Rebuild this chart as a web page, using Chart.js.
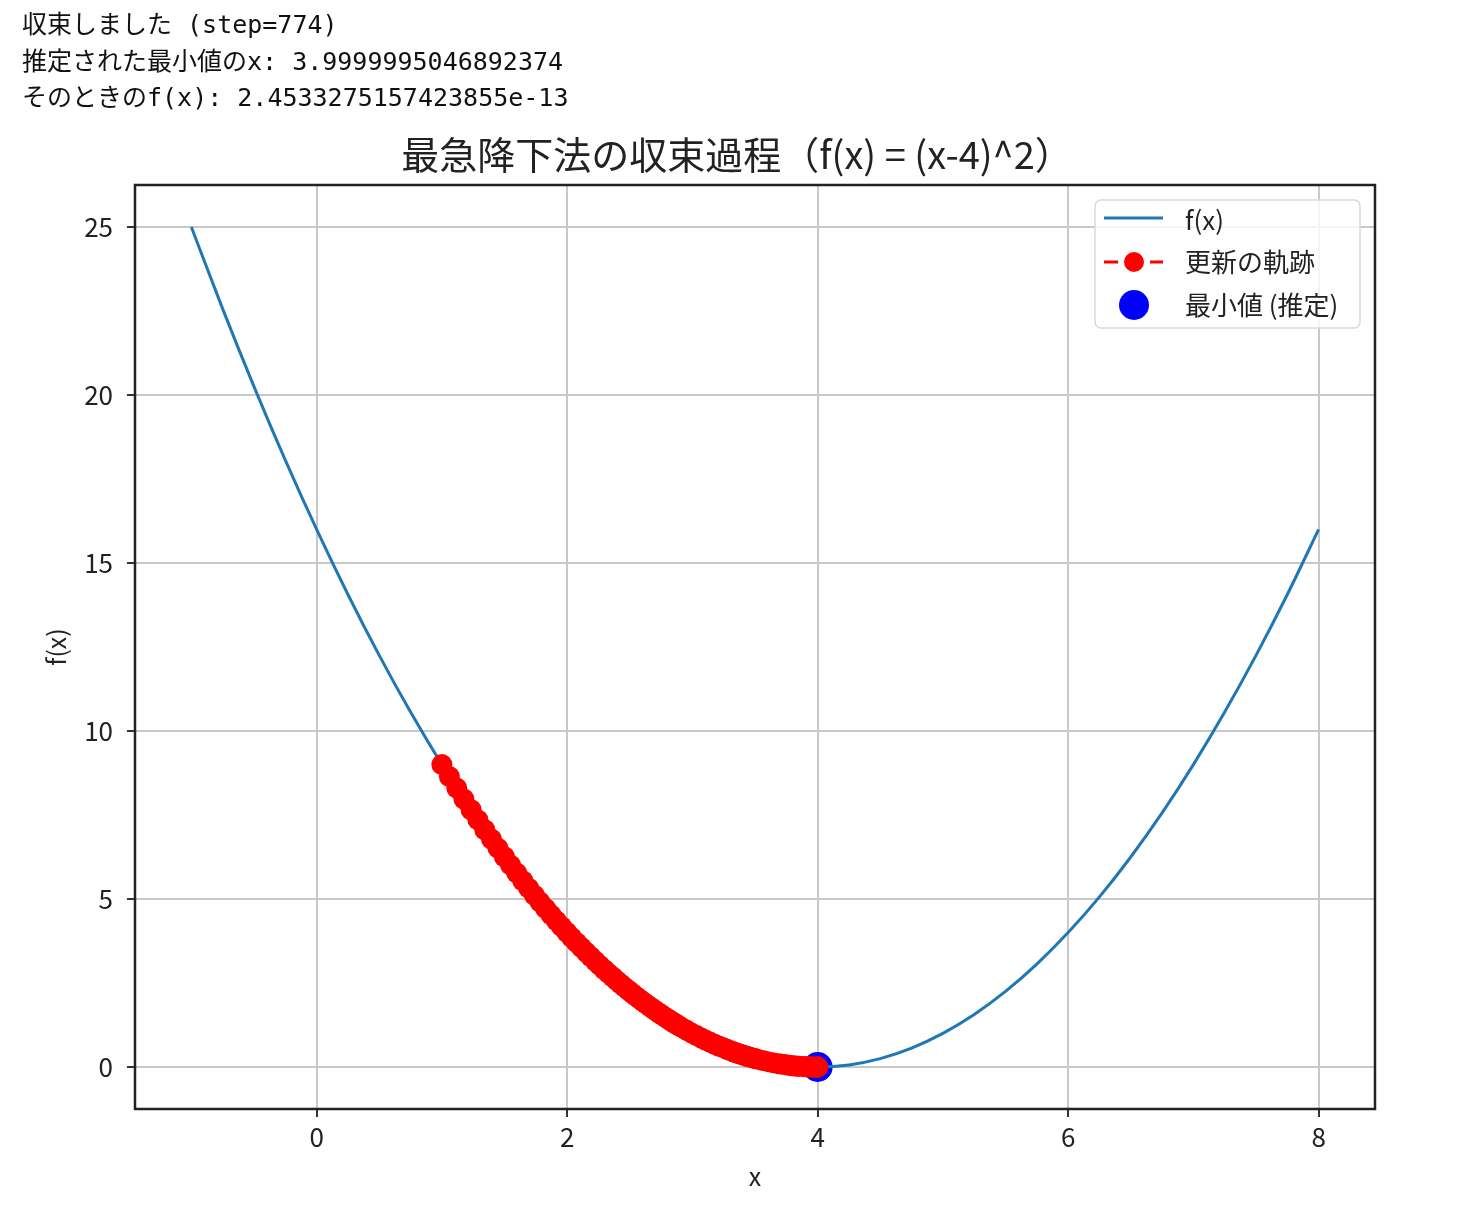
<!DOCTYPE html>
<html>
<head>
<meta charset="utf-8">
<script src="https://cdn.jsdelivr.net/npm/chart.js@4.4.0/dist/chart.umd.min.js"></script>
<style>
body { margin: 0; background: #fff; }
#wrap { position: relative; width: 1474px; height: 1220px; }
#out { position: absolute; left: 22px; top: 7px; z-index: 2; white-space: pre;
	font-family: "DejaVu Sans Mono", "Noto Sans CJK JP", monospace; font-size: 25px; line-height: 36.5px; color: #111; }
canvas { position: absolute; left: 0; top: 0; }
</style>
</head>
<body>
<div id="wrap">
<div id="out">収束しました (step=774)
推定された最小値のx: 3.9999995046892374
そのときのf(x): 2.4533275157423855e-13</div>
<canvas id="chart" width="1474" height="1220"></canvas>
</div>
<script>
// f(x) curve
var curveX = [-1, -0.75, -0.5, -0.25, 0, 0.25, 0.5, 0.75, 1, 1.25, 1.5, 1.75, 2, 2.25, 2.5, 2.75, 3, 3.25, 3.5, 3.75,
	4, 4.25, 4.5, 4.75, 5, 5.25, 5.5, 5.75, 6, 6.25, 6.5, 6.75, 7, 7.25, 7.5, 7.75, 8];
var curveY = [25, 22.5625, 20.25, 18.0625, 16, 14.0625, 12.25, 10.5625, 9, 7.5625, 6.25, 5.0625, 4, 3.0625, 2.25, 1.5625, 1, 0.5625, 0.25, 0.0625,
	0, 0.0625, 0.25, 0.5625, 1, 1.5625, 2.25, 3.0625, 4, 5.0625, 6.25, 7.5625, 9, 10.5625, 12.25, 14.0625, 16];

// update trajectory (subset of the 774 steps)
var stepX = [1.000, 1.060, 1.119, 1.176, 1.233, 1.288, 1.342, 1.396, 1.448, 1.499,
	1.549, 1.598, 1.646, 1.693, 1.739, 1.784, 1.829, 1.872, 1.915, 1.956,
	1.997, 2.037, 2.076, 2.115, 2.153, 2.190, 2.226, 2.261, 2.296, 2.330,
	2.364, 2.396, 2.428, 2.460, 2.491, 2.521, 2.550, 2.579, 2.608, 2.636,
	2.663, 2.690, 2.716, 2.742, 2.767, 2.791, 2.816, 2.839, 2.862, 2.885,
	2.907, 2.951, 2.992, 3.032, 3.071, 3.107, 3.143, 3.177, 3.209, 3.241,
	3.271, 3.300, 3.327, 3.354, 3.379, 3.404, 3.428, 3.450, 3.472, 3.493,
	3.513, 3.560, 3.602, 3.640, 3.675, 3.706, 3.734, 3.760, 3.783, 3.804,
	3.823, 3.840, 3.855, 3.882, 3.903, 3.921, 3.935, 3.947, 3.968, 3.981,
	3.993, 3.997, 3.999, 3.9999995];
var stepY = [9.000, 8.644, 8.301, 7.973, 7.657, 7.354, 7.062, 6.783, 6.514, 6.256,
	6.008, 5.771, 5.542, 5.323, 5.112, 4.909, 4.715, 4.528, 4.349, 4.177,
	4.011, 3.852, 3.700, 3.553, 3.413, 3.278, 3.148, 3.023, 2.903, 2.788,
	2.678, 2.572, 2.470, 2.372, 2.278, 2.188, 2.101, 2.018, 1.938, 1.862,
	1.788, 1.717, 1.649, 1.584, 1.521, 1.461, 1.403, 1.347, 1.294, 1.243,
	1.194, 1.101, 1.015, 0.937, 0.864, 0.797, 0.735, 0.678, 0.625, 0.577,
	0.532, 0.491, 0.453, 0.417, 0.385, 0.355, 0.328, 0.302, 0.279, 0.257,
	0.237, 0.194, 0.158, 0.129, 0.106, 0.086, 0.071, 0.058, 0.047, 0.038,
	0.031, 0.026, 0.021, 0.014, 0.0094, 0.0062, 0.0042, 0.0028, 0.0010, 0.0004,
	0.00005, 0.0000065, 0, 0];

var minX = [3.9999995046892374];
var minY = [2.4533275157423855e-13];

var xTicks = [0, 2, 4, 6, 8];
var yTicks = [0, 5, 10, 15, 20, 25];
var xRange = [-1.45, 8.45];
var yRange = [-1.25, 26.25];

var labels = ['f(x)', '更新の軌跡', '最小値 (推定)'];
var title = '最急降下法の収束過程（f(x) = (x-4)^2）';

var FONT = '"Noto Sans CJK JP", "Noto Sans", sans-serif';
var BLUE = '#1f77b4';

function pts(xs, ys) {
	return xs.map(function(x, i) { return { x: x, y: ys[i] }; });
}

var legendPlugin = {
	id: 'boxLegend',
	afterDraw: function(chart) {
		var ctx = chart.ctx;
		var a = chart.chartArea;
		// frame
		ctx.save();
		ctx.strokeStyle = '#222';
		ctx.lineWidth = 2.5;
		ctx.strokeRect(a.left, a.top, a.right - a.left, a.bottom - a.top);

		var bx = a.right - 280, by = a.top + 15, bw = 265, bh = 128;
		ctx.beginPath();
		ctx.roundRect(bx, by, bw, bh, 6);
		ctx.fillStyle = 'rgba(255,255,255,0.8)';
		ctx.fill();
		ctx.strokeStyle = '#d9d9d9';
		ctx.lineWidth = 1.5;
		ctx.stroke();

		var y1 = by + 18, y2 = by + 62, y3 = by + 105;
		// f(x) line
		ctx.strokeStyle = BLUE;
		ctx.lineWidth = 3;
		ctx.beginPath(); ctx.moveTo(bx + 9, y1); ctx.lineTo(bx + 68, y1); ctx.stroke();
		// trajectory
		ctx.strokeStyle = 'red';
		ctx.beginPath(); ctx.moveTo(bx + 9, y2); ctx.lineTo(bx + 23, y2); ctx.moveTo(bx + 55, y2); ctx.lineTo(bx + 68, y2); ctx.stroke();
		ctx.fillStyle = 'red';
		ctx.beginPath(); ctx.arc(bx + 39, y2, 10, 0, Math.PI * 2); ctx.fill();
		// min point
		ctx.fillStyle = 'blue';
		ctx.beginPath(); ctx.arc(bx + 39, y3, 15, 0, Math.PI * 2); ctx.fill();

		ctx.fillStyle = '#222';
		ctx.font = '26px ' + FONT;
		ctx.textBaseline = 'middle';
		ctx.textAlign = 'left';
		ctx.fillText(labels[0], bx + 90, y1 + 2);
		ctx.fillText(labels[1], bx + 90, y2);
		ctx.fillText(labels[2], bx + 90, y3);
		ctx.restore();
	}
};

var ctx = document.getElementById('chart').getContext('2d');
var chart = new Chart(ctx, {
	type: 'line',
	data: {
		datasets: [{
			label: labels[0],
			data: pts(curveX, curveY),
			borderColor: BLUE,
			borderWidth: 3,
			pointRadius: 0,
			cubicInterpolationMode: 'monotone',
			fill: false,
			order: 2
		}, {
			label: labels[1],
			data: pts(stepX, stepY),
			borderColor: 'red',
			borderWidth: 3,
			borderDash: [10, 6],
			pointRadius: 10.5,
			pointBackgroundColor: 'red',
			pointBorderWidth: 0,
			fill: false,
			order: 1
		}, {
			label: labels[2],
			type: 'scatter',
			data: pts(minX, minY),
			pointRadius: 15,
			pointBackgroundColor: 'blue',
			pointBorderWidth: 0,
			showLine: false,
			order: 3
		}]
	},
	options: {
		responsive: false,
		animation: false,
		layout: { padding: { top: 132, right: 0, left: 0, bottom: 0 } },
		plugins: {
			legend: { display: false },
			tooltip: { enabled: false },
			title: {
				display: true,
				text: title,
				color: '#222',
				font: { family: FONT, size: 38, weight: 'normal', lineHeight: 1.2 },
				padding: { top: 0, bottom: 7.4 }
			}
		},
		scales: {
			x: {
				type: 'linear',
				min: xRange[0],
				max: xRange[1],
				afterBuildTicks: function(s) { s.ticks = xTicks.map(function(v) { return { value: v }; }); },
				afterFit: function(s) { s.height = 111; },
				grid: { color: '#c8c8c8', lineWidth: 2, tickLength: 8, tickColor: '#333', tickWidth: 2 },
				border: { display: false },
				ticks: { color: '#222', padding: 5, font: { family: FONT, size: 26 }, maxRotation: 0 },
				title: { display: true, text: 'x', color: '#222', font: { family: FONT, size: 25 }, padding: { top: 0, bottom: 29 } }
			},
			y: {
				type: 'linear',
				min: yRange[0],
				max: yRange[1],
				afterBuildTicks: function(s) { s.ticks = yTicks.map(function(v) { return { value: v }; }); },
				afterFit: function(s) { s.width = 135; },
				grid: { color: '#c8c8c8', lineWidth: 2, tickLength: 8, tickColor: '#333', tickWidth: 2 },
				border: { display: false },
				ticks: { color: '#222', padding: 14, font: { family: FONT, size: 26 } },
				title: { display: true, text: 'f(x)', color: '#222', font: { family: FONT, size: 25 }, padding: { top: 41, bottom: 0 } }
			},
			// empty right-hand strip, keeps the plot box off the right edge
			pad: {
				type: 'linear',
				position: 'right',
				afterFit: function(s) { s.width = 99; },
				grid: { display: false },
				border: { display: false },
				ticks: { display: false }
			}
		}
	},
	plugins: [legendPlugin]
});
</script>
</body>
</html>
